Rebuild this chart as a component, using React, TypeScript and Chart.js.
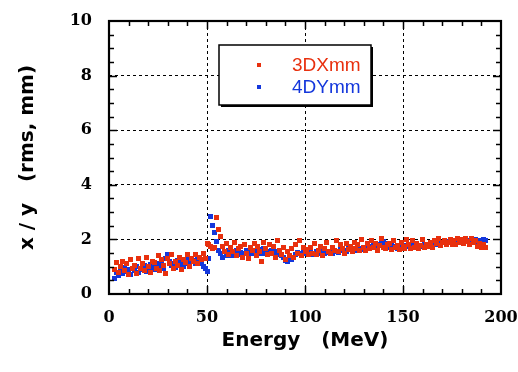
import React, { useEffect, useRef } from 'react';
import { Chart, registerables } from 'chart.js';

Chart.register(...registerables);

// Energy (MeV) for each sample
const energies = [
  3, 4, 5, 6, 7, 8, 9, 10, 11, 12,
  13, 14, 15, 16, 17, 18, 19, 20, 21, 22,
  23, 24, 25, 26, 27, 28, 29, 30, 31, 32,
  33, 34, 35, 36, 37, 38, 39, 40, 41, 42,
  43, 44, 45, 46, 47, 48, 49, 50, 51, 52,
  53, 54, 55, 56, 57, 58, 59, 60, 61, 62,
  63, 64, 65, 66, 67, 68, 69, 70, 71, 72,
  73, 74, 75, 76, 77, 78, 79, 80, 81, 82,
  83, 84, 85, 86, 87, 88, 89, 90, 91, 92,
  93, 94, 95, 96, 97, 98, 99, 100, 101, 102,
  103, 104, 105, 106, 107, 108, 109, 110, 111, 112,
  113, 114, 115, 116, 117, 118, 119, 120, 121, 122,
  123, 124, 125, 126, 127, 128, 129, 130, 131, 132,
  133, 134, 135, 136, 137, 138, 139, 140, 141, 142,
  143, 144, 145, 146, 147, 148, 149, 150, 151, 152,
  153, 154, 155, 156, 157, 158, 159, 160, 161, 162,
  163, 164, 165, 166, 167, 168, 169, 170, 171, 172,
  173, 174, 175, 176, 177, 178, 179, 180, 181, 182,
  183, 184, 185, 186, 187, 188, 189, 190, 191, 192,
];

// 3DXmm (rms, mm)
const dx3mm = [
  0.90, 1.15, 0.80, 1.00, 1.20, 0.85, 1.10, 0.70, 1.25, 0.95,
  1.05, 0.75, 1.30, 0.95, 1.10, 0.85, 1.35, 1.00, 0.80, 1.20,
  1.15, 0.95, 1.40, 0.85, 1.25, 1.05, 0.75, 1.30, 1.10, 1.45,
  0.95, 1.20, 1.05, 1.35, 0.90, 1.25, 1.15, 1.45, 1.00, 1.30,
  1.20, 1.45, 1.10, 1.35, 1.25, 1.50, 1.30, 1.86, 1.80, 1.75,
  1.65, 1.70, 2.80, 2.38, 2.10, 1.75, 1.55, 1.85, 1.45, 1.70,
  1.55, 1.90, 1.40, 1.65, 1.75, 1.35, 1.80, 1.50, 1.30, 1.70,
  1.60, 1.85, 1.40, 1.75, 1.55, 1.20, 1.90, 1.65, 1.45, 1.80,
  1.50, 1.75, 1.35, 1.95, 1.60, 1.45, 1.70, 1.25, 1.55, 1.40,
  1.65, 1.35, 1.80, 1.50, 1.95, 1.40, 1.70, 1.55, 1.62, 1.45,
  1.70, 1.50, 1.85, 1.45, 1.60, 1.75, 1.40, 1.65, 1.90, 1.55,
  1.48, 1.72, 1.60, 1.95, 1.55, 1.80, 1.65, 1.50, 1.85, 1.62,
  1.75, 1.55, 1.90, 1.65, 1.80, 1.60, 2.00, 1.70, 1.58, 1.85,
  1.65, 1.95, 1.72, 1.85, 1.60, 1.78, 2.02, 1.70, 1.68, 1.80,
  1.85, 1.62, 1.95, 1.70, 1.78, 1.62, 1.90, 1.75, 1.65, 2.00,
  1.80, 1.65, 1.95, 1.72, 1.85, 1.68, 1.78, 1.98, 1.70, 1.82,
  1.75, 1.90, 1.72, 1.95, 1.85, 2.02, 1.78, 1.88, 1.95, 1.80,
  1.90, 2.00, 1.82, 1.95, 1.80, 2.05, 1.88, 1.98, 1.85, 2.02,
  1.92, 1.80, 2.05, 1.88, 1.95, 1.75, 1.85, 1.72, 1.80, 1.70,
];

// 4DYmm (rms, mm)
const dy4mm = [
  0.55, 0.80, 0.68, 0.92, 0.75, 0.98, 0.82, 0.90, 0.72, 0.95,
  0.85, 1.00, 0.78, 0.95, 0.88, 1.05, 0.82, 0.98, 1.08, 0.90,
  1.00, 0.88, 1.10, 0.95, 1.15, 0.92, 1.30, 1.45, 1.20, 1.05,
  1.10, 0.98, 1.22, 1.05, 1.15, 1.00, 1.25, 1.12, 1.30, 1.18,
  1.22, 1.10, 1.28, 1.15, 1.12, 1.02, 0.95, 0.82, 1.30, 2.85,
  2.50, 2.27, 1.94, 1.60, 1.48, 1.35, 1.55, 1.42, 1.60, 1.40,
  1.50, 1.42, 1.58, 1.45, 1.52, 1.38, 1.48, 1.58, 1.45, 1.52,
  1.48, 1.58, 1.42, 1.55, 1.62, 1.50, 1.65, 1.48, 1.55, 1.52,
  1.60, 1.50, 1.56, 1.45, 1.50, 1.40, 1.32, 1.22, 1.18, 1.28,
  1.25, 1.35, 1.45, 1.52, 1.48, 1.50, 1.56, 1.48, 1.52, 1.50,
  1.54, 1.46, 1.50, 1.56, 1.48, 1.52, 1.58, 1.50, 1.55, 1.52,
  1.56, 1.50, 1.60, 1.55, 1.52, 1.62, 1.58, 1.60, 1.55, 1.65,
  1.62, 1.68, 1.64, 1.60, 1.70, 1.66, 1.62, 1.72, 1.68, 1.70,
  1.75, 1.72, 1.78, 1.75, 1.82, 1.80, 1.88, 1.92, 1.84, 1.78,
  1.72, 1.76, 1.70, 1.74, 1.68, 1.76, 1.72, 1.75, 1.70, 1.78,
  1.74, 1.76, 1.72, 1.78, 1.75, 1.70, 1.76, 1.74, 1.80, 1.75,
  1.78, 1.82, 1.80, 1.85, 1.82, 1.88, 1.85, 1.90, 1.87, 1.90,
  1.94, 1.90, 1.92, 1.96, 1.92, 1.95, 1.90, 1.96, 2.00, 1.94,
  1.96, 1.92, 1.98, 1.94, 2.00, 1.92, 1.95, 1.94, 1.98, 1.96,
];

const seriesNames = ['3DXmm', '4DYmm'];
const xTitle = 'Energy   (MeV)';
const yTitle = 'x / y   (rms, mm)';
const xRange = [0, 200];
const yRange = [0, 10];
const xMajorStep = 50;
const yMajorStep = 2;
const xMinorStep = 10;
const yMinorStep = 0.5;

const RED = '#e8300e';
const BLUE = '#1437dc';

function squareMarker(color: string, size: number) {
  const c = document.createElement('canvas');
  c.width = size;
  c.height = size;
  const g = c.getContext('2d');
  if (g) {
    g.fillStyle = color;
    g.fillRect(0, 0, size, size);
  }
  return c;
}

const crispPlugin = {
  id: 'crispPlugin',
  beforeDatasetsDraw(chart: any) {
    chart.ctx.imageSmoothingEnabled = false;
  },
};

const framePlugin = {
  id: 'framePlugin',
  afterDatasetsDraw(chart: any) {
    const { ctx, chartArea: a, scales } = chart;
    const x = scales.x;
    const y = scales.y;
    ctx.save();
    ctx.strokeStyle = '#000';
    ctx.lineWidth = 1.5;
    ctx.setLineDash([]);
    const seg = (x1: number, y1: number, x2: number, y2: number) => {
      ctx.beginPath();
      ctx.moveTo(x1, y1);
      ctx.lineTo(x2, y2);
      ctx.stroke();
    };
    for (let v = xRange[0] + xMinorStep; v < xRange[1] - 1e-9; v += xMinorStep) {
      const px = Math.round(x.getPixelForValue(v)) + 0.5;
      const len = Math.abs(v % xMajorStep) < 1e-9 ? 8 : 5;
      seg(px, a.bottom, px, a.bottom - len);
      seg(px, a.top, px, a.top + len);
    }
    for (let v = yRange[0] + yMinorStep; v < yRange[1] - 1e-9; v += yMinorStep) {
      const py = Math.round(y.getPixelForValue(v)) + 0.5;
      const len = Math.abs(v % yMajorStep) < 1e-9 ? 8 : 5;
      seg(a.left, py, a.left + len, py);
      seg(a.right, py, a.right - len, py);
    }
    ctx.lineWidth = 2.2;
    ctx.strokeRect(a.left, a.top, a.right - a.left, a.bottom - a.top);

    // legend box
    const lx = 219, ly = 45, lw = 152, lh = 60;
    ctx.fillStyle = '#000';
    ctx.fillRect(lx + 2, ly + 2, lw, lh);
    ctx.fillStyle = '#fff';
    ctx.fillRect(lx, ly, lw, lh);
    ctx.lineWidth = 1.5;
    ctx.strokeRect(lx, ly, lw, lh);
    const colors = [RED, BLUE];
    const rows = [65, 87];
    ctx.font = '19px "Liberation Sans", Arial, sans-serif';
    ctx.textBaseline = 'middle';
    ctx.textAlign = 'left';
    seriesNames.forEach((name, i) => {
      ctx.fillStyle = colors[i];
      ctx.fillRect(257, rows[i] - 2, 4, 4);
      ctx.fillText(name, 292, rows[i] + 1);
    });
    ctx.restore();
  },
};

export default function App() {
  const ref = useRef<HTMLCanvasElement | null>(null);
  useEffect(() => {
    document.body.style.margin = '0';
    const canvas = ref.current;
    if (!canvas) return;
    const tickFont = { family: '"DejaVu Serif", serif', weight: 'bold' as const, size: 16 };
    const titleFont = { family: '"DejaVu Sans", sans-serif', weight: 'bold' as const, size: 20 };
    const chart = new Chart(canvas, {
      type: 'scatter',
      data: {
        datasets: [
          {
            label: seriesNames[0],
            data: energies.map((e, i) => ({ x: e, y: dx3mm[i] })),
            backgroundColor: RED,
            borderWidth: 0,
            pointStyle: squareMarker(RED, 5) as any,
            pointRadius: 3,
          },
          {
            label: seriesNames[1],
            data: energies.map((e, i) => ({ x: e, y: dy4mm[i] })),
            backgroundColor: BLUE,
            borderWidth: 0,
            pointStyle: squareMarker(BLUE, 5) as any,
            pointRadius: 3,
          },
        ],
      },
      options: {
        responsive: false,
        animation: false,
        events: [],
        layout: { padding: { top: 21, right: 17, left: 0, bottom: 0 } },
        plugins: { legend: { display: false }, tooltip: { enabled: false } },
        scales: {
          x: {
            type: 'linear',
            min: xRange[0],
            max: xRange[1],
            ticks: { stepSize: xMajorStep, color: '#000', font: tickFont, padding: 14, maxRotation: 0 },
            grid: {
              color: (c: any) => (c.tick && (c.tick.value === xRange[0] || c.tick.value === xRange[1]) ? 'rgba(0,0,0,0)' : '#000'),
              lineWidth: 1,
              drawTicks: false,
            },
            border: { display: false, dash: [3, 3] },
            title: { display: true, text: xTitle, color: '#000', font: titleFont, padding: { top: 0, bottom: 19 } },
            afterFit: (s: any) => {
              s.height = 78;
              s.paddingLeft = 0;
              s.paddingRight = 0;
            },
          },
          y: {
            type: 'linear',
            min: yRange[0],
            max: yRange[1],
            ticks: { stepSize: yMajorStep, color: '#000', font: tickFont, padding: 17 },
            grid: {
              color: (c: any) => (c.tick && (c.tick.value === yRange[0] || c.tick.value === yRange[1]) ? 'rgba(0,0,0,0)' : '#000'),
              lineWidth: 1,
              drawTicks: false,
            },
            border: { display: false, dash: [3, 3] },
            title: { display: true, text: yTitle, color: '#000', font: titleFont, padding: { top: 16, bottom: 0 } },
            afterFit: (s: any) => {
              s.width = 109;
              s.paddingTop = 0;
              s.paddingBottom = 0;
            },
          },
        },
      },
      plugins: [crispPlugin, framePlugin],
    });
    return () => chart.destroy();
  }, []);
  return (
    <div style={{ position: 'absolute', left: 0, top: 0, width: 518, height: 372, background: '#fff' }}>
      <canvas ref={ref} width={518} height={372} style={{ width: 518, height: 372, display: 'block' }} />
    </div>
  );
}
